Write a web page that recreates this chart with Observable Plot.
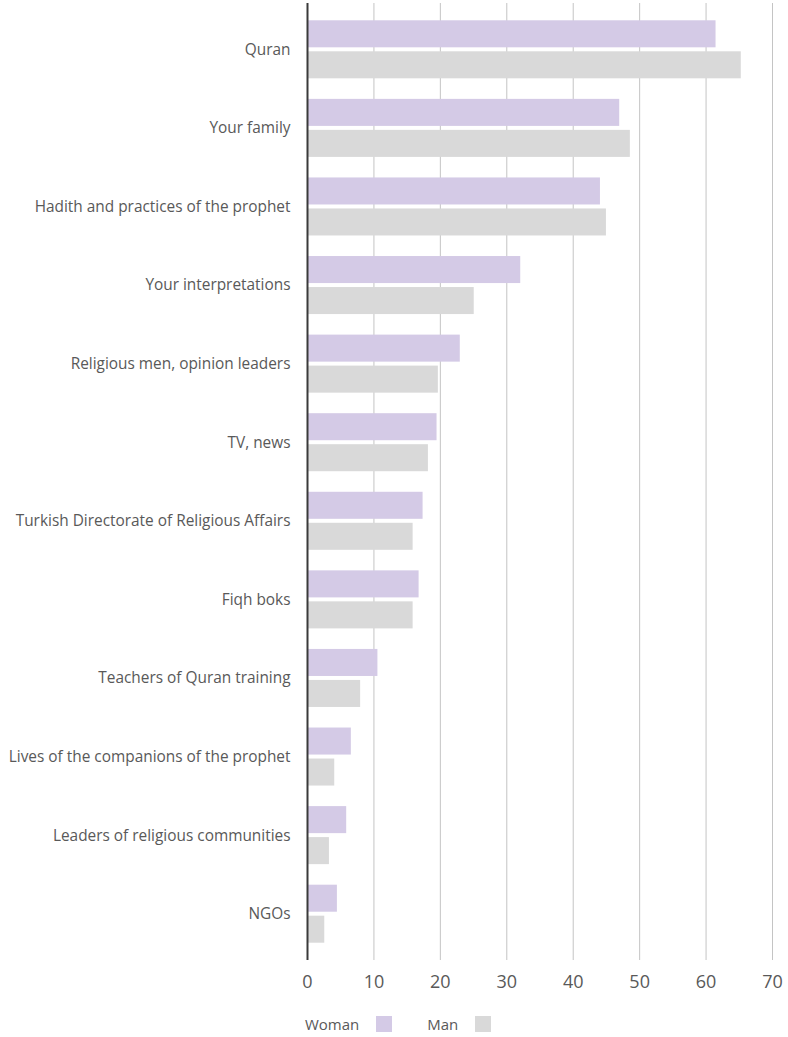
<!DOCTYPE html>
<html>
<head>
<meta charset="utf-8">
<script src="https://cdn.jsdelivr.net/npm/d3@7"></script>
<script src="https://cdn.jsdelivr.net/npm/@observablehq/plot@0.6"></script>
<style>
  body { margin: 0; background: #fff; font-family: "Open Sans", sans-serif; }
  #legend { display: flex; align-items: center; height: 16px; margin-top: 16px; margin-left: 305px; font-size: 15px; color: #595959; }
  #legend .item { display: flex; align-items: center; }
  #legend .sw { width: 16px; height: 16px; margin-left: 17px; }
  #legend .item + .item { margin-left: 35px; }
</style>
</head>
<body>
<div id="chart"></div>
<div id="legend"></div>
<script>
const categories = [
  "Quran",
  "Your family",
  "Hadith and practices of the prophet",
  "Your interpretations",
  "Religious men, opinion leaders",
  "TV, news",
  "Turkish Directorate of Religious Affairs",
  "Fiqh boks",
  "Teachers of Quran training",
  "Lives of the companions of the prophet",
  "Leaders of religious communities",
  "NGOs"
];
const womanValues = [61.5, 47.0, 44.1, 32.1, 23.0, 19.5, 17.4, 16.8, 10.6, 6.6, 5.9, 4.5];
const manValues   = [65.3, 48.6, 45.0, 25.1, 19.7, 18.2, 15.9, 15.9, 8.0, 4.1, 3.3, 2.6];
const genders = ["Woman", "Man"];
const genderColors = ["#d4cae6", "#d9d9d9"];
const xTicks = [0, 10, 20, 30, 40, 50, 60, 70];

const rows = categories.flatMap((c, i) => [
  { category: c, gender: "Woman", value: womanValues[i] },
  { category: c, gender: "Man", value: manValues[i] }
]);

const chart = Plot.plot({
  width: 788,
  height: 1000,
  marginLeft: 307,
  marginRight: 16,
  marginTop: 3,
  marginBottom: 40,
  style: { fontFamily: "Open Sans", fontSize: "14px", color: "#595959", background: "white" },
  x: { domain: [0, 70], label: null },
  y: { domain: categories, paddingInner: 0.2616, paddingOuter: 0.22, round: false, label: null },
  color: { domain: genders, range: genderColors },
  marks: [
    Plot.gridX(xTicks, { stroke: "#c4c4c4", strokeOpacity: 1 }),
    Plot.barX(rows.filter(d => d.gender === "Woman"), { x: "value", y: "category", fill: "gender", insetBottom: 31 }),
    Plot.barX(rows.filter(d => d.gender === "Man"), { x: "value", y: "category", fill: "gender", insetTop: 31 }),
    Plot.ruleX([0], { stroke: "#3a3a3a", strokeWidth: 2 }),
    Plot.axisX(xTicks, { tickSize: 0, tickPadding: 15, fontSize: 18, fill: "#595959", label: null }),
    Plot.axisY({ tickSize: 0, tickPadding: 17, fontSize: 15.4, fill: "#595959", label: null })
  ]
});
document.getElementById("chart").appendChild(chart);

const legend = document.getElementById("legend");
genders.forEach((g, i) => {
  const item = document.createElement("div");
  item.className = "item";
  const t = document.createElement("span");
  t.textContent = g;
  const sw = document.createElement("span");
  sw.className = "sw";
  sw.style.background = genderColors[i];
  item.appendChild(t);
  item.appendChild(sw);
  legend.appendChild(item);
});
</script>
</body>
</html>
